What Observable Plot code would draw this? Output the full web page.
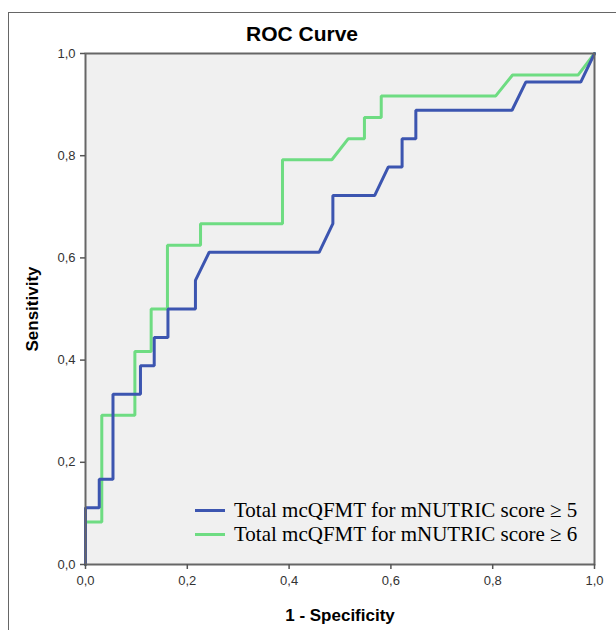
<!DOCTYPE html>
<html>
<head>
<meta charset="utf-8">
<script src="https://cdn.jsdelivr.net/npm/d3@7"></script>
<script src="https://cdn.jsdelivr.net/npm/@observablehq/plot@0.6"></script>
<style>
  html, body { margin: 0; padding: 0; background: #fff; }
  #wrap { position: relative; width: 616px; height: 630px; overflow: hidden; }
  #outer { position: absolute; left: 8px; top: 12px; width: 700px; height: 700px; border: 1px solid #666; box-sizing: border-box; }
  #title { position: absolute; left: 0; width: 604px; top: 22px; text-align: center; font: bold 21px "Liberation Sans", Arial, sans-serif; color: #000; }
  #legend { position: absolute; left: 195px; top: 498px; font: 21px "Liberation Serif", "Times New Roman", serif; color: #000; }
  .row { display: flex; align-items: center; height: 24px; }
  .sw { width: 30px; height: 3px; margin-right: 9px; }
  #chart { position: absolute; left: 0; top: 0; }
</style>
</head>
<body>
<div id="wrap">
  <div id="outer"></div>
  <div id="chart"></div>
  <div id="title">ROC Curve</div>
  <div id="legend"></div>
</div>
<script>
// Series 1: Total mcQFMT for mNUTRIC score ≥ 5
const series1Name = "Total mcQFMT for mNUTRIC score \u2265 5";
const s1FPR = [0, 0, 0.027, 0.027, 0.054, 0.054, 0.108, 0.108, 0.135, 0.135, 0.162, 0.162, 0.216, 0.216, 0.243, 0.459, 0.486, 0.486, 0.568, 0.595, 0.622, 0.622, 0.649, 0.649, 0.838, 0.865, 0.973, 1];
const s1TPR = [0, 0.111, 0.111, 0.167, 0.167, 0.333, 0.333, 0.389, 0.389, 0.444, 0.444, 0.5, 0.5, 0.556, 0.611, 0.611, 0.667, 0.722, 0.722, 0.778, 0.778, 0.833, 0.833, 0.889, 0.889, 0.944, 0.944, 1];

// Series 2: Total mcQFMT for mNUTRIC score ≥ 6
const series2Name = "Total mcQFMT for mNUTRIC score \u2265 6";
const s2FPR = [0, 0, 0.032, 0.032, 0.097, 0.097, 0.129, 0.129, 0.161, 0.161, 0.226, 0.226, 0.387, 0.387, 0.484, 0.516, 0.548, 0.548, 0.581, 0.581, 0.806, 0.839, 0.968, 1];
const s2TPR = [0, 0.083, 0.083, 0.292, 0.292, 0.417, 0.417, 0.5, 0.5, 0.625, 0.625, 0.667, 0.667, 0.792, 0.792, 0.833, 0.833, 0.875, 0.875, 0.917, 0.917, 0.958, 0.958, 1];

const tickValues = [0, 0.2, 0.4, 0.6, 0.8, 1.0];
const colors = {s1: "#3c55b0", s2: "#6edc82"};

const d1 = s1FPR.map((x, i) => ({x, y: s1TPR[i]}));
const d2 = s2FPR.map((x, i) => ({x, y: s2TPR[i]}));
const fmt = d => d.toFixed(1).replace(".", ",");

const plot = Plot.plot({
  width: 616,
  height: 630,
  marginLeft: 85,
  marginRight: 22,
  marginTop: 53,
  marginBottom: 66,
  style: {fontFamily: "'Liberation Sans', Arial, sans-serif", fontSize: "13px", color: "#333", background: "transparent"},
  x: {domain: [0, 1]},
  y: {domain: [0, 1]},
  marks: [
    Plot.frame({fill: "#f0f0f0", stroke: null}),
    Plot.line(d2, {x: "x", y: "y", stroke: colors.s2, strokeWidth: 3, curve: "linear", strokeLinejoin: "miter"}),
    Plot.line(d1, {x: "x", y: "y", stroke: colors.s1, strokeWidth: 3, curve: "linear", strokeLinejoin: "miter"}),
    Plot.frame({stroke: "#666", strokeWidth: 2}),
    Plot.axisX({ticks: tickValues, tickFormat: fmt, tickSize: 5, tickPadding: 6, stroke: "#555", strokeWidth: 1.5,
                label: "1 - Specificity", labelAnchor: "center", labelOffset: 56, labelArrow: "none"}),
    Plot.axisY({ticks: tickValues, tickFormat: fmt, tickSize: 5, tickPadding: 5, stroke: "#555", strokeWidth: 1.5,
                label: "Sensitivity", labelAnchor: "center", labelOffset: 60, labelArrow: "none"})
  ]
});
plot.querySelectorAll("[aria-label='x-axis label'] text, [aria-label='y-axis label'] text").forEach(t => {
  t.style.fontWeight = "bold";
  t.style.fontSize = "17px";
  t.style.fill = "#000";
});
document.getElementById("chart").appendChild(plot);

const legend = document.getElementById("legend");
[[series1Name, colors.s1], [series2Name, colors.s2]].forEach(([name, c]) => {
  const row = document.createElement("div");
  row.className = "row";
  row.innerHTML = `<div class="sw" style="background:${c}"></div><span>${name}</span>`;
  legend.appendChild(row);
});
</script>
</body>
</html>
